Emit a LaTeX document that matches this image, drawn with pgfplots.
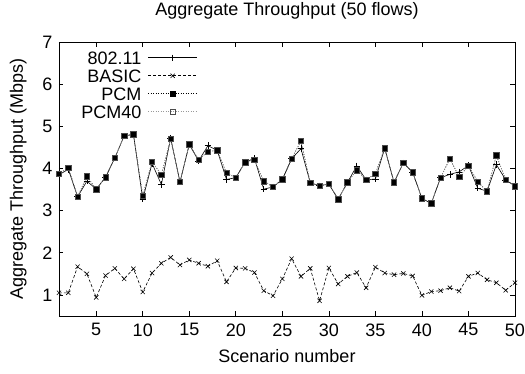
\documentclass[border=0pt]{standalone}
\usepackage{pgfplots}
\pgfplotsset{compat=1.18}
\usepackage{pgfplotstable}
\usepackage{fontspec}
\setmainfont{Liberation Sans}
\pgfplotstableread{
x a b c d
1 3.85 1.05 3.87 3.87
2 3.98 1.05 4.02 4.02
3 3.33 1.67 3.33 3.33
4 3.70 1.50 3.81 3.81
5 3.51 0.94 3.51 3.51
6 3.79 1.46 3.79 3.79
7 4.25 1.63 4.25 4.25
8 4.77 1.38 4.77 4.77
9 4.81 1.62 4.81 4.81
10 3.27 1.07 3.35 3.35
11 4.12 1.52 4.16 4.16
12 3.62 1.75 3.85 3.85
13 4.72 1.89 4.70 4.70
14 3.68 1.71 3.68 3.68
15 4.57 1.83 4.57 4.57
16 4.18 1.75 4.21 4.21
17 4.54 1.68 4.40 4.40
18 4.43 1.81 4.43 4.43
19 3.74 1.31 3.89 3.89
20 3.78 1.64 3.78 3.78
21 4.15 1.63 4.15 4.15
22 4.24 1.53 4.21 4.21
23 3.51 1.10 3.70 3.70
24 3.56 0.98 3.56 3.56
25 3.74 1.38 3.74 3.74
26 4.23 1.86 4.23 4.23
27 4.47 1.44 4.65 4.65
28 3.66 1.63 3.66 3.66
29 3.59 0.86 3.59 3.59
30 3.63 1.64 3.63 3.63
31 3.27 1.26 3.27 3.27
32 3.67 1.44 3.67 3.67
33 4.06 1.53 3.96 3.96
34 3.73 1.17 3.73 3.73
35 3.75 1.66 3.88 3.88
36 4.48 1.52 4.48 4.48
37 3.67 1.48 3.67 3.67
38 4.13 1.51 4.13 4.13
39 3.91 1.45 3.91 3.91
40 3.29 0.99 3.29 3.29
41 3.17 1.08 3.17 3.17
42 3.78 1.10 3.78 3.78
43 3.86 1.17 4.23 4.23
44 3.92 1.09 3.80 3.80
45 4.07 1.44 4.07 4.07
46 3.53 1.52 3.68 3.68
47 3.46 1.36 3.46 3.46
48 4.09 1.29 4.31 4.31
49 3.73 1.11 3.73 3.73
50 3.58 1.29 3.58 3.58
}\datatable
\begin{document}
\begin{tikzpicture}[font=\fontsize{18}{20}\selectfont]
\useasboundingbox (-59pt,-58pt) rectangle (466pt,316pt);
\begin{axis}[
  scale only axis,
  width=456pt, height=274pt,
  xmin=1, xmax=50, ymin=0.5, ymax=7,
  xtick={5,10,...,50}, ytick={1,2,...,7},
  tick align=inside,
  major tick length=4.5pt,
  axis line style={line width=0.8pt},
  every tick/.style={line width=0.7pt, black},
  /pgf/number format/assume math mode=true,
  xticklabel style={yshift=-4pt},
  yticklabel style={xshift=-3pt},
  title={Aggregate Throughput (50 flows)},
  title style={at={(axis description cs:0.5,1)}, anchor=base, yshift=21pt},
  xlabel={Scenario number},
  xlabel style={at={(axis description cs:0.5,0)}, anchor=base, yshift=-47pt},
  ylabel={Aggregate Throughput (Mbps)},
  ylabel style={at={(axis description cs:-0.079,0.5)}, anchor=base},
  clip=false,
  legend plot pos=right,
  legend cell align=right,
  legend style={at={(axis description cs:0.304,0.976)}, anchor=north east,
    draw=none, fill=none, inner sep=0pt, row sep=0pt, column sep=4pt,
    nodes={inner sep=2.5pt, text height=13pt, text depth=0pt},
    legend image code/.code={\draw[mark repeat=2,mark phase=2,#1] plot coordinates {(0cm,0cm) (0.86cm,0cm) (1.72cm,0cm)};}},
]
\addplot[black, line width=0.6pt, mark=+, mark size=3.2pt, mark options={solid}] table[x=x,y=a]{\datatable};
\addlegendentry{802.11}
\addplot[black, line width=0.6pt, dash pattern=on 3pt off 2pt, mark=x, mark size=3pt, mark options={solid}] table[x=x,y=b]{\datatable};
\addlegendentry{BASIC}
\addplot[black, line width=0.6pt, dash pattern=on 1pt off 1.5pt, mark=square*, mark size=2.7pt, mark options={solid}] table[x=x,y=c]{\datatable};
\addlegendentry{PCM}
\addplot[black!40, line width=0.6pt, dash pattern=on 1pt off 1.5pt, mark=square, mark size=2.7pt, mark options={solid, black!70}] table[x=x,y=d]{\datatable};
\addlegendentry{PCM40}
\end{axis}
\end{tikzpicture}
\end{document}
